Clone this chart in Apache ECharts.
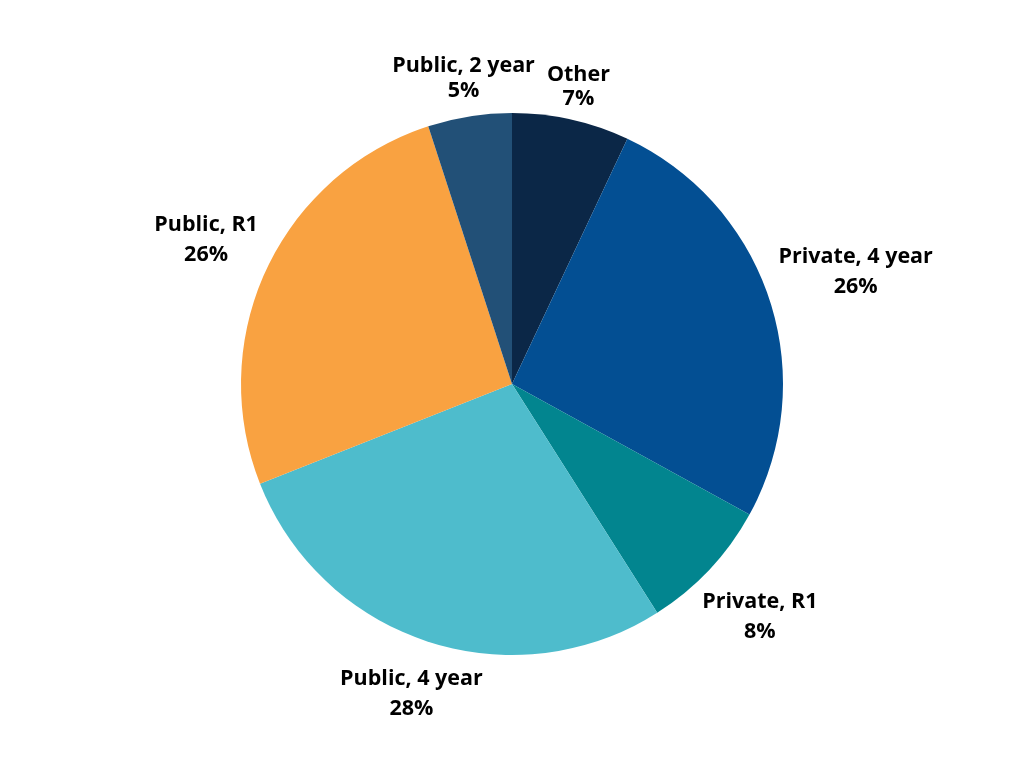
<!DOCTYPE html>
<html>
<head>
<meta charset="utf-8">
<script src="https://cdn.jsdelivr.net/npm/echarts@6/dist/echarts.min.js"></script>
<style>
html,body{margin:0;padding:0;background:#fff;}
#chart{width:1024px;height:768px;}
</style>
</head>
<body>
<div id="chart"></div>
<script>
const categories = ['Other', 'Private, 4 year', 'Private, R1', 'Public, 4 year', 'Public, R1', 'Public, 2 year'];
const values = [7, 26, 8, 28, 26, 5];
const colors = ['#0b2747', '#034f93', '#02858f', '#4ebccc', '#f9a241', '#225077'];
const labelLineHeights = [24, 30, 30, 30, 30, 25];

const RADIUS = 271;
const total = values.reduce((a, b) => a + b, 0);
const midAngles = [];
let acc = 0;
values.forEach(v => { midAngles.push((acc + v / 2) / total * 2 * Math.PI); acc += v; });

const chart = echarts.init(document.getElementById('chart'));
chart.setOption({
  animation: false,
  series: [{
    type: 'pie',
    center: ['50%', '50%'],
    radius: RADIUS,
    startAngle: 90,
    clockwise: true,
    data: categories.map((c, i) => ({
      name: c, value: values[i],
      itemStyle: { color: colors[i] },
      label: { lineHeight: labelLineHeights[i] }
    })),
    label: {
      show: true,
      position: 'outside',
      formatter: p => p.name + '\n' + p.percent.toFixed(0) + '%',
      fontFamily: 'Open Sans',
      fontWeight: 'bold',
      fontSize: 21.5,
      lineHeight: 30,
      color: '#000'
    },
    labelLine: { show: false },
    labelLayout: function (params) {
      const i = params.dataIndex;
      const a = midAngles[i];
      const ux = Math.sin(a), uy = -Math.cos(a);
      const w = params.labelRect.width, h = params.labelRect.height;
      const gap = 2 + 6 * Math.abs(ux);
      const d = RADIUS + gap + (w / 2) * Math.abs(ux) + (h / 2) * Math.abs(uy);
      const cx = chart.getWidth() / 2, cy = chart.getHeight() / 2;
      return { x: cx + d * ux, y: cy + d * uy, align: 'center', verticalAlign: 'middle' };
    }
  }]
});
</script>
</body>
</html>
